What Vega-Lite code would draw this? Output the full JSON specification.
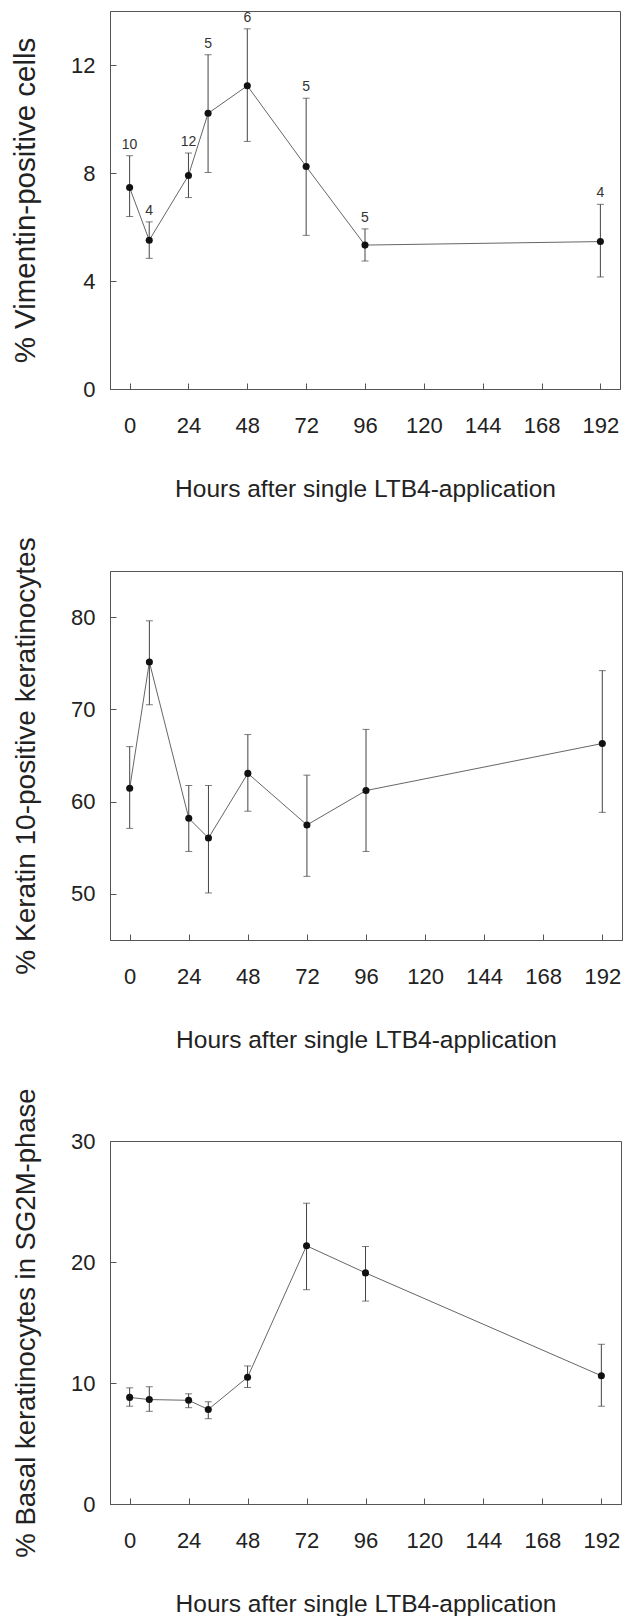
{
  "$schema": "https://vega.github.io/schema/vega-lite/v6.json",
  "background": "white",
  "padding": {"left": 10, "top": 10, "right": 2, "bottom": 0},
  "spacing": 35,
  "config": {
    "font": "Liberation Sans",
    "view": {"stroke": "#555", "strokeWidth": 1},
    "axis": {
      "grid": false,
      "labelFont": "Liberation Sans",
      "labelFontSize": 22,
      "labelColor": "#222",
      "titleFont": "Liberation Sans",
      "titleFontWeight": "normal",
      "titleColor": "#222",
      "domainColor": "#555",
      "tickColor": "#555",
      "tickSize": -6
    },
    "axisX": {"labelPadding": 32, "titleFontSize": 24.5, "titlePadding": 41},
    "axisY": {"labelPadding": 21, "titlePadding": 30}
  },
  "vconcat": [
    {
      "width": 510,
      "height": 378,
      "data": {"values": [
        {"hours": 0, "mean": 7.46, "lower": 6.39, "upper": 8.64, "n": "10"},
        {"hours": 8, "mean": 5.51, "lower": 4.84, "upper": 6.19, "n": "4"},
        {"hours": 24, "mean": 7.91, "lower": 7.09, "upper": 8.74, "n": "12"},
        {"hours": 32, "mean": 10.21, "lower": 8.02, "upper": 12.38, "n": "5"},
        {"hours": 48, "mean": 11.23, "lower": 9.17, "upper": 13.34, "n": "6"},
        {"hours": 72, "mean": 8.24, "lower": 5.69, "upper": 10.77, "n": "5"},
        {"hours": 96, "mean": 5.33, "lower": 4.74, "upper": 5.93, "n": "5"},
        {"hours": 192, "mean": 5.46, "lower": 4.15, "upper": 6.84, "n": "4"}
      ]},
      "encoding": {
        "x": {"field": "hours", "type": "quantitative",
          "scale": {"domain": [-8, 200], "nice": false, "zero": false},
          "axis": {"values": [0, 24, 48, 72, 96, 120, 144, 168, 192], "title": "Hours after single LTB4-application"}}
      },
      "layer": [
        {"mark": {"type": "rule", "color": "#444", "strokeWidth": 1},
          "encoding": {"y": {"field": "lower", "type": "quantitative",
            "scale": {"domain": [0, 14], "nice": false},
            "axis": {"values": [0, 4, 8, 12], "title": "% Vimentin-positive cells", "titleFontSize": 29.5}},
            "y2": {"field": "upper"}}},
        {"mark": {"type": "tick", "orient": "horizontal", "size": 7, "thickness": 1, "color": "#444"},
          "encoding": {"y": {"field": "upper", "type": "quantitative"}}},
        {"mark": {"type": "tick", "orient": "horizontal", "size": 7, "thickness": 1, "color": "#444"},
          "encoding": {"y": {"field": "lower", "type": "quantitative"}}},
        {"mark": {"type": "line", "color": "#666", "strokeWidth": 1},
          "encoding": {"y": {"field": "mean", "type": "quantitative"}}},
        {"mark": {"type": "circle", "size": 50, "color": "#111", "opacity": 1},
          "encoding": {"y": {"field": "mean", "type": "quantitative"}}},
        {"mark": {"type": "text", "dy": -11, "fontSize": 14, "color": "#333", "baseline": "middle"},
          "encoding": {"y": {"field": "upper", "type": "quantitative"}, "text": {"field": "n"}}}
      ]
    },
    {
      "width": 512,
      "height": 369,
      "data": {"values": [
        {"hours": 0, "mean": 61.45, "lower": 57.1, "upper": 65.96},
        {"hours": 8, "mean": 75.13, "lower": 70.5, "upper": 79.6},
        {"hours": 24, "mean": 58.2, "lower": 54.6, "upper": 61.75},
        {"hours": 32, "mean": 56.05, "lower": 50.1, "upper": 61.75},
        {"hours": 48, "mean": 63.06, "lower": 58.96, "upper": 67.27},
        {"hours": 72, "mean": 57.47, "lower": 51.9, "upper": 62.87},
        {"hours": 96, "mean": 61.2, "lower": 54.6, "upper": 67.83},
        {"hours": 192, "mean": 66.3, "lower": 58.84, "upper": 74.2}
      ]},
      "encoding": {
        "x": {"field": "hours", "type": "quantitative",
          "scale": {"domain": [-8, 200], "nice": false, "zero": false},
          "axis": {"values": [0, 24, 48, 72, 96, 120, 144, 168, 192], "title": "Hours after single LTB4-application"}}
      },
      "layer": [
        {"mark": {"type": "rule", "color": "#444", "strokeWidth": 1},
          "encoding": {"y": {"field": "lower", "type": "quantitative",
            "scale": {"domain": [45, 85], "nice": false, "zero": false},
            "axis": {"values": [50, 60, 70, 80], "title": "% Keratin 10-positive keratinocytes", "titleFontSize": 28}},
            "y2": {"field": "upper"}}},
        {"mark": {"type": "tick", "orient": "horizontal", "size": 7, "thickness": 1, "color": "#444"},
          "encoding": {"y": {"field": "upper", "type": "quantitative"}}},
        {"mark": {"type": "tick", "orient": "horizontal", "size": 7, "thickness": 1, "color": "#444"},
          "encoding": {"y": {"field": "lower", "type": "quantitative"}}},
        {"mark": {"type": "line", "color": "#666", "strokeWidth": 1},
          "encoding": {"y": {"field": "mean", "type": "quantitative"}}},
        {"mark": {"type": "circle", "size": 50, "color": "#111", "opacity": 1},
          "encoding": {"y": {"field": "mean", "type": "quantitative"}}}
      ]
    },
    {
      "width": 511,
      "height": 363,
      "data": {"values": [
        {"hours": 0, "mean": 8.81, "lower": 8.08, "upper": 9.6},
        {"hours": 8, "mean": 8.63, "lower": 7.66, "upper": 9.69},
        {"hours": 24, "mean": 8.57, "lower": 7.96, "upper": 9.11},
        {"hours": 32, "mean": 7.81, "lower": 7.05, "upper": 8.45},
        {"hours": 48, "mean": 10.48, "lower": 9.63, "upper": 11.41},
        {"hours": 72, "mean": 21.34, "lower": 17.71, "upper": 24.86},
        {"hours": 96, "mean": 19.1, "lower": 16.77, "upper": 21.28},
        {"hours": 192, "mean": 10.6, "lower": 8.08, "upper": 13.2}
      ]},
      "encoding": {
        "x": {"field": "hours", "type": "quantitative",
          "scale": {"domain": [-8, 200], "nice": false, "zero": false},
          "axis": {"values": [0, 24, 48, 72, 96, 120, 144, 168, 192], "title": "Hours after single LTB4-application"}}
      },
      "layer": [
        {"mark": {"type": "rule", "color": "#444", "strokeWidth": 1},
          "encoding": {"y": {"field": "lower", "type": "quantitative",
            "scale": {"domain": [0, 30], "nice": false},
            "axis": {"values": [0, 10, 20, 30], "title": "% Basal keratinocytes in SG2M-phase", "titleFontSize": 27.5}},
            "y2": {"field": "upper"}}},
        {"mark": {"type": "tick", "orient": "horizontal", "size": 7, "thickness": 1, "color": "#444"},
          "encoding": {"y": {"field": "upper", "type": "quantitative"}}},
        {"mark": {"type": "tick", "orient": "horizontal", "size": 7, "thickness": 1, "color": "#444"},
          "encoding": {"y": {"field": "lower", "type": "quantitative"}}},
        {"mark": {"type": "line", "color": "#666", "strokeWidth": 1},
          "encoding": {"y": {"field": "mean", "type": "quantitative"}}},
        {"mark": {"type": "circle", "size": 50, "color": "#111", "opacity": 1},
          "encoding": {"y": {"field": "mean", "type": "quantitative"}}}
      ]
    }
  ]
}
